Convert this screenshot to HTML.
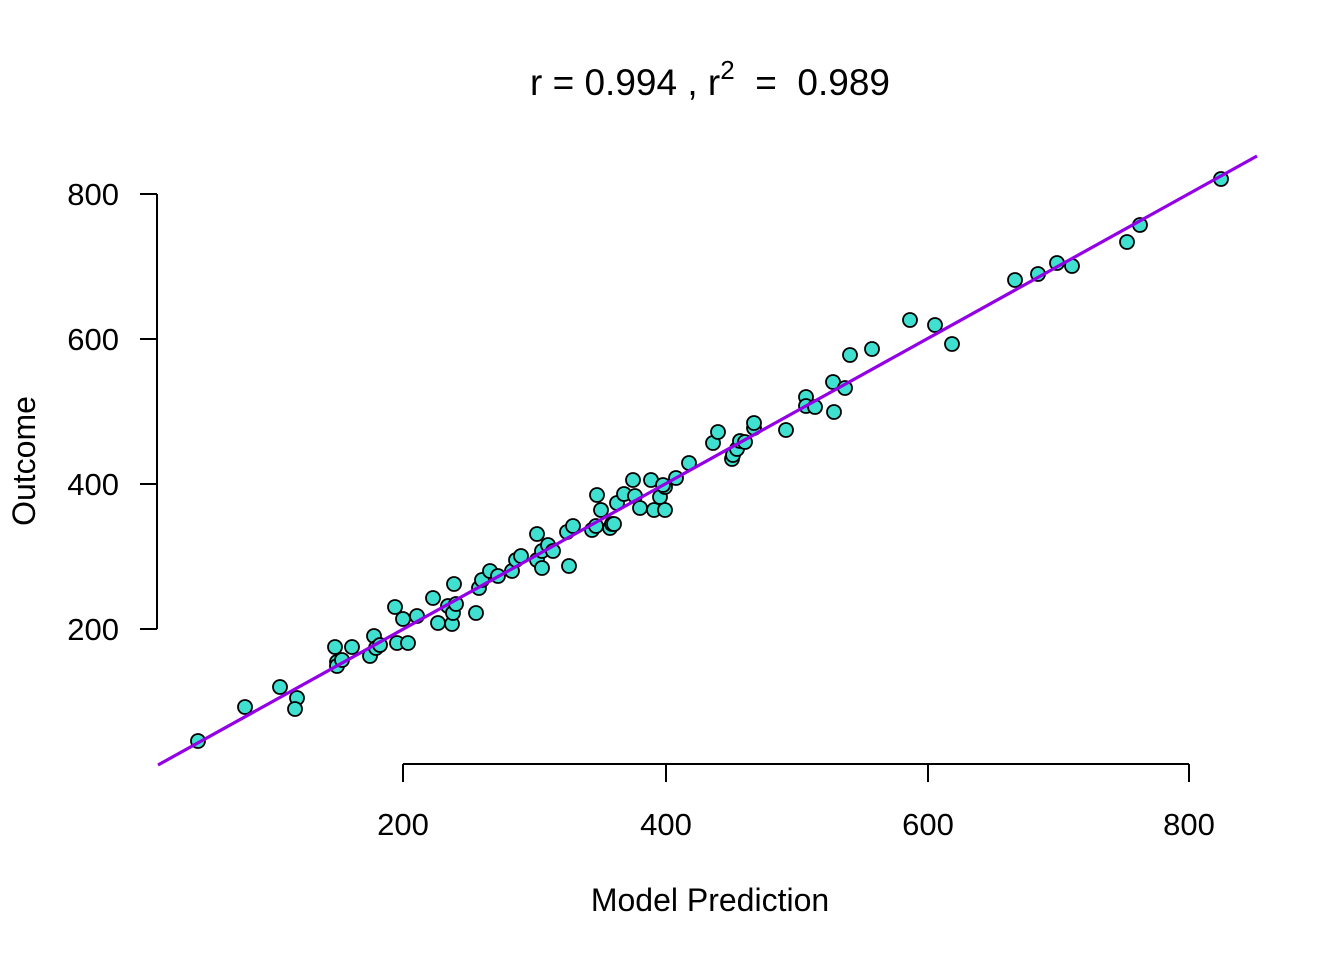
<!DOCTYPE html>
<html><head><meta charset="utf-8"><style>html,body{margin:0;padding:0;background:#fff}</style></head>
<body>
<svg width="1344" height="960" xmlns="http://www.w3.org/2000/svg" font-family="Liberation Sans, Arial, sans-serif">
<rect width="1344" height="960" fill="#fff"/>
<text x="710" y="95" font-size="37" text-anchor="middle" style="white-space:pre" xml:space="preserve">r = 0.994 , r<tspan dy="-16" font-size="26">2</tspan><tspan dy="16">  =  0.989</tspan></text>
<g stroke="#000" stroke-width="2" fill="none">
<line x1="157" y1="194" x2="157" y2="629"/>
<line x1="140" y1="194" x2="157" y2="194"/>
<line x1="140" y1="339" x2="157" y2="339"/>
<line x1="140" y1="484" x2="157" y2="484"/>
<line x1="140" y1="629" x2="157" y2="629"/>
<line x1="403" y1="764" x2="1189" y2="764"/>
<line x1="403" y1="764" x2="403" y2="782"/>
<line x1="666" y1="764" x2="666" y2="782"/>
<line x1="928" y1="764" x2="928" y2="782"/>
<line x1="1189" y1="764" x2="1189" y2="782"/>
</g>
<g font-size="31" text-anchor="end">
<text x="119" y="205">800</text><text x="119" y="350">600</text><text x="119" y="495">400</text><text x="119" y="640">200</text>
</g>
<g font-size="31" text-anchor="middle">
<text x="403" y="835">200</text><text x="666" y="835">400</text><text x="928" y="835">600</text><text x="1189" y="835">800</text>
<text x="710" y="911" font-size="32">Model Prediction</text>
</g>
<text transform="translate(35,461) rotate(-90)" font-size="32" text-anchor="middle">Outcome</text>
<g fill="#40E0D0" stroke="#000" stroke-width="1.8">
<circle cx="198" cy="741" r="7"/><circle cx="245" cy="707" r="7"/><circle cx="280" cy="687" r="7"/><circle cx="297" cy="698" r="7"/><circle cx="295" cy="709" r="7"/><circle cx="335" cy="647" r="7"/><circle cx="337" cy="662" r="7"/><circle cx="337" cy="666" r="7"/><circle cx="342" cy="660" r="7"/><circle cx="352" cy="647" r="7"/><circle cx="370" cy="656" r="7"/><circle cx="374" cy="636" r="7"/><circle cx="376" cy="648" r="7"/><circle cx="380" cy="645" r="7"/><circle cx="395" cy="607" r="7"/><circle cx="397" cy="643" r="7"/><circle cx="403" cy="619" r="7"/><circle cx="408" cy="643" r="7"/><circle cx="417" cy="616" r="7"/><circle cx="433" cy="598" r="7"/><circle cx="438" cy="623" r="7"/><circle cx="448" cy="606" r="7"/><circle cx="452" cy="624" r="7"/><circle cx="453" cy="613" r="7"/><circle cx="454" cy="584" r="7"/><circle cx="456" cy="604" r="7"/><circle cx="476" cy="613" r="7"/><circle cx="479" cy="588" r="7"/><circle cx="482" cy="580" r="7"/><circle cx="490" cy="571" r="7"/><circle cx="498" cy="576" r="7"/><circle cx="512" cy="571" r="7"/><circle cx="516" cy="560" r="7"/><circle cx="521" cy="556" r="7"/><circle cx="537" cy="534" r="7"/><circle cx="537" cy="560" r="7"/><circle cx="542" cy="568" r="7"/><circle cx="542" cy="551" r="7"/><circle cx="548" cy="545" r="7"/><circle cx="553" cy="551" r="7"/><circle cx="569" cy="566" r="7"/><circle cx="567" cy="532" r="7"/><circle cx="573" cy="526" r="7"/><circle cx="592" cy="530" r="7"/><circle cx="596" cy="526" r="7"/><circle cx="597" cy="495" r="7"/><circle cx="601" cy="510" r="7"/><circle cx="610" cy="528" r="7"/><circle cx="612" cy="524" r="7"/><circle cx="614" cy="524" r="7"/><circle cx="617" cy="503" r="7"/><circle cx="624" cy="494" r="7"/><circle cx="633" cy="480" r="7"/><circle cx="635" cy="496" r="7"/><circle cx="640" cy="508" r="7"/><circle cx="651" cy="480" r="7"/><circle cx="654" cy="510" r="7"/><circle cx="660" cy="497" r="7"/><circle cx="665" cy="510" r="7"/><circle cx="665" cy="487" r="7"/><circle cx="663" cy="485" r="7"/><circle cx="676" cy="478" r="7"/><circle cx="689" cy="463" r="7"/><circle cx="713" cy="443" r="7"/><circle cx="718" cy="432" r="7"/><circle cx="732" cy="459" r="7"/><circle cx="733" cy="455" r="7"/><circle cx="737" cy="449" r="7"/><circle cx="740" cy="441" r="7"/><circle cx="745" cy="442" r="7"/><circle cx="754" cy="428" r="7"/><circle cx="754" cy="423" r="7"/><circle cx="786" cy="430" r="7"/><circle cx="806" cy="397" r="7"/><circle cx="806" cy="406" r="7"/><circle cx="815" cy="407" r="7"/><circle cx="833" cy="382" r="7"/><circle cx="834" cy="412" r="7"/><circle cx="845" cy="388" r="7"/><circle cx="850" cy="355" r="7"/><circle cx="872" cy="349" r="7"/><circle cx="910" cy="320" r="7"/><circle cx="935" cy="325" r="7"/><circle cx="952" cy="344" r="7"/><circle cx="1015" cy="280" r="7"/><circle cx="1038" cy="274" r="7"/><circle cx="1057" cy="263" r="7"/><circle cx="1072" cy="266" r="7"/><circle cx="1127" cy="242" r="7"/><circle cx="1140" cy="225" r="7"/><circle cx="1221" cy="179" r="7"/>
</g>
<line x1="158" y1="765" x2="1257" y2="156" stroke="#9400E6" stroke-width="3.2"/>
</svg>
</body></html>
